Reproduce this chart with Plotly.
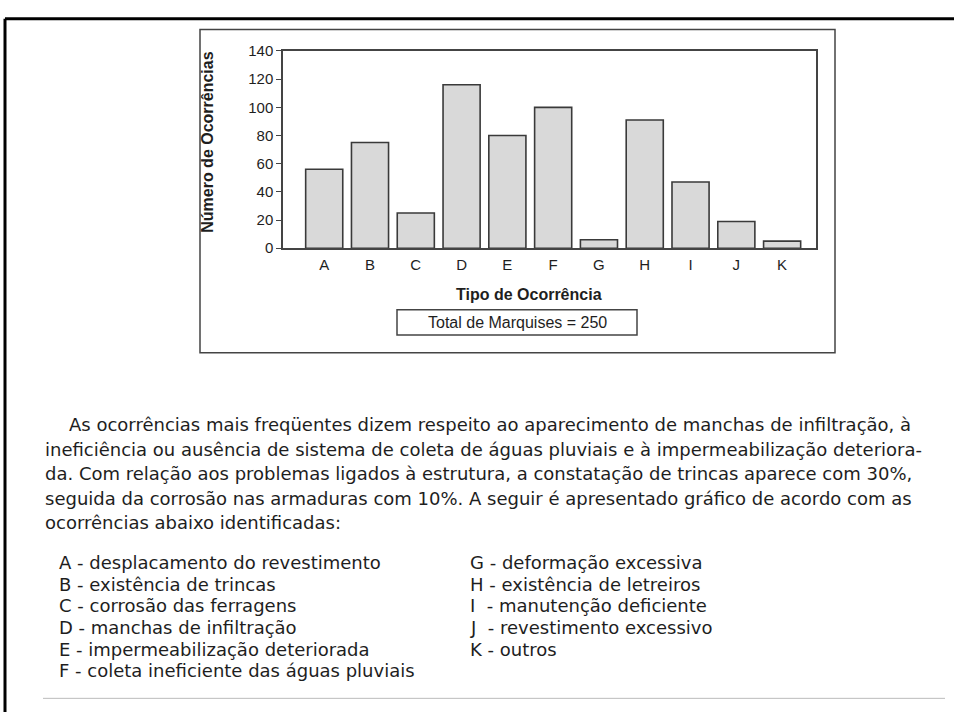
import plotly.graph_objects as go

W, H = 954, 720

categories = ["A", "B", "C", "D", "E", "F", "G", "H", "I", "J", "K"]
occurrences = [56, 75, 25, 116, 80, 100, 6, 91, 47, 19, 5]
y_ticks = [0, 20, 40, 60, 80, 100, 120, 140]

y_title = "Número de Ocorrências"
x_title = "Tipo de Ocorrência"
total_label = "Total de Marquises = 250"

paragraph = [
    "As ocorrências mais freqüentes dizem respeito ao aparecimento de manchas de infiltração, à",
    "ineficiência ou ausência de sistema de coleta de águas pluviais e à impermeabilização deteriora-",
    "da. Com relação aos problemas ligados à estrutura, a constatação de trincas aparece com 30%,",
    "seguida da corrosão nas armaduras com 10%. A seguir é apresentado gráfico de acordo com as",
    "ocorrências abaixo identificadas:",
]
legend_left = [
    "A - desplacamento do revestimento",
    "B - existência de trincas",
    "C - corrosão das ferragens",
    "D - manchas de infiltração",
    "E - impermeabilização deteriorada",
    "F - coleta ineficiente das águas pluviais",
]
legend_right = [
    "G - deformação excessiva",
    "H - existência de letreiros",
    "I  - manutenção deficiente",
    "J  - revestimento excessivo",
    "K - outros",
]

FONT = "Liberation Sans, Arial, sans-serif"
BODY_FONT = "DejaVu Sans, Liberation Sans, sans-serif"
TXT = "#1e1e1e"


def px(x):
    return x / W


def py(y):
    return 1 - y / H


fig = go.Figure()
fig.add_trace(go.Bar(
    x=categories, y=occurrences, width=0.81,
    marker=dict(color="#d9d9d9", line=dict(color="#3a3a3a", width=1.6)),
    showlegend=False, hoverinfo="x+y",
))

fig.update_layout(
    width=W, height=H,
    margin=dict(l=0, r=0, t=0, b=0),
    paper_bgcolor="white", plot_bgcolor="white",
    font=dict(family=FONT, color=TXT),
    bargap=0.2,
    xaxis=dict(
        domain=[px(283), px(816)],
        type="category", range=[-0.9, 10.74],
        showline=True, linecolor="#444", linewidth=1.5, mirror=True,
        showgrid=False, ticks="", tickfont=dict(size=15, color=TXT),
        ticklabelstandoff=2,
    ),
    yaxis=dict(
        domain=[py(245), py(43)],
        range=[0, 140], tickvals=y_ticks,
        showline=True, linecolor="#444", linewidth=1.5, mirror=True,
        showgrid=False, zeroline=False,
        ticks="outside", ticklen=5, tickwidth=1.2, tickcolor="#444",
        tickfont=dict(size=15, color=TXT),
    ),
)

shapes = []
# page border (top and left)
shapes.append(dict(type="line", xref="paper", yref="paper", x0=px(5), x1=px(954), y0=py(10), y1=py(10),
                   line=dict(color="black", width=3)))
shapes.append(dict(type="line", xref="paper", yref="paper", x0=px(5), x1=px(5), y0=py(10), y1=py(720),
                   line=dict(color="black", width=3)))
# chart frame
shapes.append(dict(type="rect", xref="paper", yref="paper", x0=px(200), x1=px(835), y0=py(352), y1=py(21),
                   line=dict(color="#444", width=1.5)))
# total box
shapes.append(dict(type="rect", xref="paper", yref="paper", x0=px(397), x1=px(637), y0=py(334), y1=py(308),
                   line=dict(color="#444", width=1.5)))
# bottom rule
shapes.append(dict(type="line", xref="paper", yref="paper", x0=px(43), x1=px(945), y0=py(706), y1=py(706),
                   line=dict(color="#bbbbbb", width=1)))
fig.update_layout(shapes=shapes)

ann = []
ann.append(dict(text=f"<b>{y_title}</b>", x=px(208), y=py(136), xref="paper", yref="paper",
                textangle=-90, showarrow=False, font=dict(size=16, color=TXT), xanchor="center", yanchor="middle"))
ann.append(dict(text=f"<b>{x_title}</b>", x=px(529), y=py(292), xref="paper", yref="paper",
                showarrow=False, font=dict(size=16, color=TXT), xanchor="center", yanchor="middle"))
ann.append(dict(text=total_label, x=px(517), y=py(321), xref="paper", yref="paper",
                showarrow=False, font=dict(size=16, color=TXT), xanchor="center", yanchor="middle"))

para_y = [426, 451, 476, 501, 526]
for i, (line, yy) in enumerate(zip(paragraph, para_y)):
    x0 = 67 if i == 0 else 43
    ann.append(dict(text=line, x=px(x0), y=py(yy), xref="paper", yref="paper", showarrow=False,
                    xanchor="left", yanchor="middle", font=dict(family=BODY_FONT, size=18, color=TXT)))

leg_y = [567, 589, 611, 633, 656, 678]
for line, yy in zip(legend_left, leg_y):
    ann.append(dict(text=line, x=px(57), y=py(yy), xref="paper", yref="paper", showarrow=False,
                    xanchor="left", yanchor="middle", font=dict(family=BODY_FONT, size=18, color=TXT)))
for line, yy in zip(legend_right, leg_y):
    ann.append(dict(text=line, x=px(468), y=py(yy), xref="paper", yref="paper", showarrow=False,
                    xanchor="left", yanchor="middle", font=dict(family=BODY_FONT, size=18, color=TXT)))

fig.update_layout(annotations=ann)
fig.write_html("out.html", config={"displayModeBar": False},
               post_script="document.body.style.margin='0';")
